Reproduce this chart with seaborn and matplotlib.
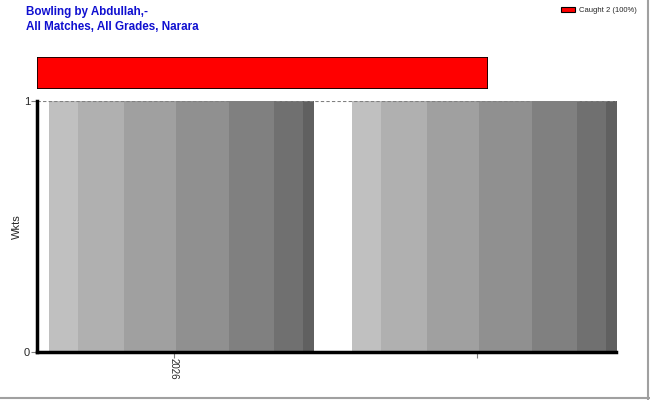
import numpy as np
import pandas as pd
import matplotlib
matplotlib.use("Agg")
import matplotlib.pyplot as plt
import seaborn as sns
from matplotlib.patches import Patch

# data
years = ["2026", ""]
wkts = [1, 1]
dismissals = ["Caught"]
dismissal_counts = [2]

sns.set_style("white")
plt.rcParams["font.family"] = ["Liberation Sans", "DejaVu Sans"]

fig = plt.figure(figsize=(6.5, 4), dpi=100)

# main wickets chart
ax = fig.add_axes([0.0569, 0.12, 0.8908, 0.6275])
df = pd.DataFrame({"year": [str(i) for i in range(len(years))], "wkts": wkts})
sns.barplot(data=df, x="year", y="wkts", color="#a0a0a0", width=0.875,
            errorbar=None, ax=ax, edgecolor="none", saturation=1)

# cylinder-like shading on each bar
shades = ["#c0c0c0", "#b0b0b0", "#a0a0a0", "#909090", "#808080", "#707070", "#606060"]
cuts = [0, 29, 75, 127, 180, 225, 254, 265]
row = []
for c, a, b in zip(shades, cuts[:-1], cuts[1:]):
    row += [matplotlib.colors.to_rgb(c)] * (b - a)
grad = np.array([row])
for p in list(ax.patches):
    x0, y0 = p.get_x(), p.get_y()
    w, h = p.get_width(), p.get_height()
    im = ax.imshow(grad, extent=[x0, x0 + w, y0, y0 + h], aspect="auto",
                   interpolation="nearest", zorder=2)
    im.set_clip_path(p)
    p.set_facecolor("none")

ax.set_xlim(-0.478, 1.436)
ax.set_ylim(0, 1)
ax.set_yticks([0, 1])
ax.set_yticklabels(["0", "1"], fontsize=8)
ax.set_xticks([i - 0.025 for i in range(len(years))])
ax.set_xticklabels(years, rotation=-90, fontsize=7)
ax.set_xlabel("")
ax.set_ylabel("Wkts", fontsize=8, labelpad=1)
ax.tick_params(axis="both", bottom=True, left=True, length=4, color="#808080",
               width=0.8, pad=1)
ax.tick_params(axis="x", pad=0)
for y in [0, 1]:
    ax.axhline(y, color="#808080", linestyle=(0, (3, 2)), linewidth=0.8, zorder=3)
for s in ["top", "right"]:
    ax.spines[s].set_visible(False)
for s in ["left", "bottom"]:
    ax.spines[s].set_color("black")
    ax.spines[s].set_linewidth(2.5)
    ax.spines[s].set_zorder(5)

# dismissal share bar above the chart
ax2 = fig.add_axes([0.0569, 0.7775, 0.694, 0.08])
pct = [100 * c / sum(dismissal_counts) for c in dismissal_counts]
sns.barplot(x=pct, y=dismissals, orient="h", color="#ff0000", width=1.0,
            edgecolor="black", linewidth=1.2, errorbar=None, ax=ax2, saturation=1)
ax2.set_xlim(0, 100)
ax2.set_ylim(0.5, -0.5)
ax2.axis("off")

# titles
fig.text(26 / 650, 1 - 12 / 400, "Bowling by Abdullah,-", color="#1010d0",
         fontsize=8.4, fontweight="bold", va="center")
fig.text(26 / 650, 1 - 27 / 400, "All Matches, All Grades, Narara", color="#1010d0",
         fontsize=8.4, fontweight="bold", va="center")

# legend
labels = [f"{d} {c} ({p:.0f}%)" for d, c, p in zip(dismissals, dismissal_counts, pct)]
handles = [Patch(facecolor="#ff0000", edgecolor="black", linewidth=0.8)]
fig.legend(handles, labels, loc="upper right", bbox_to_anchor=(0.99, 1.0),
           frameon=False, fontsize=5.5, handlelength=1.8, handleheight=0.7,
           handletextpad=0.5)

# outer frame lines (right and bottom)
fig.add_artist(plt.Line2D([0.997, 0.997], [0, 1], color="#a0a0a0", linewidth=1.5,
                          transform=fig.transFigure))
fig.add_artist(plt.Line2D([0, 1], [0.004, 0.004], color="#a0a0a0", linewidth=1.5,
                          transform=fig.transFigure))

fig.savefig("out.png", dpi=100)
